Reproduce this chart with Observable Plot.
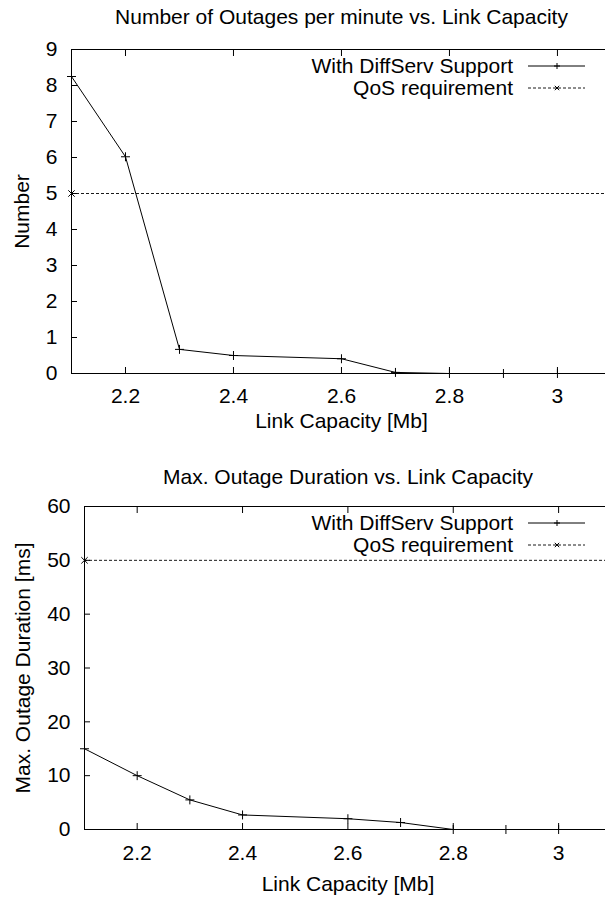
<!DOCTYPE html>
<html><head><meta charset="utf-8">
<script src="https://cdn.jsdelivr.net/npm/d3@7"></script>
<script src="https://cdn.jsdelivr.net/npm/@observablehq/plot@0.6"></script>
<style>body{margin:0;background:#fff;overflow:hidden} svg{display:block}</style>
</head><body><div id="chart"></div>
<script>
// ---- data ----
const capacity = [2.1, 2.2, 2.3, 2.4, 2.6, 2.7, 2.8, 2.9, 3.0];
const outagesPerMinute = [8.25, 6.02, 0.67, 0.5, 0.41, 0.03, 0, 0, 0];
const maxOutageDuration = [15, 10, 5.5, 2.7, 2.0, 1.3, 0, 0, 0];
const qosCapacity = [2.1];
const qosOutages = [5];
const qosDuration = [50];
const xDomain = [2.1, 3.089];
const xTicks = [2.2, 2.4, 2.6, 2.8, 3.0];
const yTicksTop = [0, 1, 2, 3, 4, 5, 6, 7, 8, 9];
const yTicksBottom = [0, 10, 20, 30, 40, 50, 60];
const titles = ["Number of Outages per minute vs. Link Capacity", "Max. Outage Duration vs. Link Capacity"];
const yLabels = ["Number", "Max. Outage Duration [ms]"];
const xLabel = "Link Capacity [Mb]";
const legendLabels = ["With DiffServ Support", "QoS requirement"];

const FONT = "'Liberation Sans', Arial, Helvetica, sans-serif";
const FS = 21;

function panel({values, qos, yDomain, yTicks, height, marginTop, marginBottom, marginLeft, title, yLabel, titleDy, yLabelDx, xLabelDy, tickPad}) {
  const rows = capacity.map((c, i) => ({c, v: values[i]}));
  const qrows = qosCapacity.map((c, i) => ({c, v: qos[i]}));
  const svg = Plot.plot({
    width: 605, height, marginTop, marginBottom, marginLeft, marginRight: 0,
    style: {fontSize: FS + "px", fontFamily: FONT, color: "#000", background: "#fff"},
    x: {domain: xDomain, label: null},
    y: {domain: yDomain, label: null},
    marks: [
      Plot.ruleY([yDomain[1]], {stroke: "#000", strokeWidth: 1}),
      Plot.ruleY([yDomain[0]], {stroke: "#000", strokeWidth: 1}),
      Plot.ruleX([xDomain[0]], {stroke: "#000", strokeWidth: 1}),
      Plot.axisX({anchor: "bottom", ticks: xTicks, tickSize: -6, text: null, label: null}),
      Plot.axisX({anchor: "top", ticks: xTicks, tickSize: -6, text: null, label: null}),
      Plot.axisX({anchor: "bottom", ticks: xTicks, tickSize: 0, tickPadding: tickPad, tickFormat: d => d3.format("")(d), label: null, fontSize: FS}),
      Plot.axisY({anchor: "left", ticks: yTicks, tickSize: -6, text: null, label: null}),
      Plot.axisY({anchor: "left", ticks: yTicks, tickSize: 0, tickPadding: 14, label: null, fontSize: FS}),
      Plot.ruleY(qrows, {y: "v", stroke: "#000", strokeWidth: 0.9, strokeDasharray: "3,2"}),
      Plot.dot(qrows, {x: "c", y: "v", symbol: "times", r: 3, stroke: "#000", strokeWidth: 1}),
      Plot.line(rows, {x: "c", y: "v", stroke: "#000", strokeWidth: 1}),
      Plot.dot(rows, {x: "c", y: "v", symbol: "plus", r: 3, stroke: "#000", strokeWidth: 1}),
      Plot.text([title], {frameAnchor: "top", dx: 3, dy: titleDy, lineAnchor: "middle", textAnchor: "middle", fontSize: FS}),
      Plot.text([yLabel], {frameAnchor: "left", rotate: -90, dx: yLabelDx, lineAnchor: "middle", textAnchor: "middle", fontSize: FS}),
      Plot.text([xLabel], {frameAnchor: "bottom", dx: 3, dy: xLabelDy, lineAnchor: "middle", textAnchor: "middle", fontSize: FS})
    ]
  });
  // legend (top-right, inside frame)
  const xs = svg.scale("x"), ys = svg.scale("y");
  const right = xs.apply(xDomain[1]);
  const top = ys.apply(yDomain[1]);
  const g = d3.select(svg).append("g").attr("font-family", FONT).attr("font-size", FS);
  const dashes = [null, "3,2"];
  const marks = ["plus", "times"];
  legendLabels.forEach((lab, i) => {
    const y = top + 17 + i * 22;
    g.append("text").attr("x", right - 92).attr("y", y).attr("dy", "0.32em").attr("text-anchor", "end").attr("fill", "#000").text(lab);
    g.append("line").attr("x1", right - 77).attr("x2", right - 20).attr("y1", y).attr("y2", y)
      .attr("stroke", "#000").attr("stroke-width", i ? 0.9 : 1).attr("stroke-dasharray", dashes[i]);
    const cx = right - 48;
    if (marks[i] === "plus") {
      g.append("path").attr("d", `M${cx-3},${y}H${cx+3}M${cx},${y-3}V${y+3}`).attr("stroke", "#000").attr("fill", "none");
    } else {
      g.append("path").attr("d", `M${cx-2.2},${y-2.2}L${cx+2.2},${y+2.2}M${cx-2.2},${y+2.2}L${cx+2.2},${y-2.2}`).attr("stroke", "#000").attr("fill", "none");
    }
  });
  return svg;
}

const root = document.getElementById("chart");
root.append(panel({values: outagesPerMinute, qos: qosOutages, yDomain: [0, 9], yTicks: yTicksTop,
  height: 440, marginTop: 49, marginBottom: 67, marginLeft: 71, title: titles[0], yLabel: yLabels[0],
  titleDy: -32, yLabelDx: -49, xLabelDy: 48, tickPad: 15}));
root.append(panel({values: maxOutageDuration, qos: qosDuration, yDomain: [0, 60], yTicks: yTicksBottom,
  height: 460, marginTop: 66, marginBottom: 71, marginLeft: 84, title: titles[1], yLabel: yLabels[1],
  titleDy: -29, yLabelDx: -61, xLabelDy: 55, tickPad: 16}));
</script></body></html>
